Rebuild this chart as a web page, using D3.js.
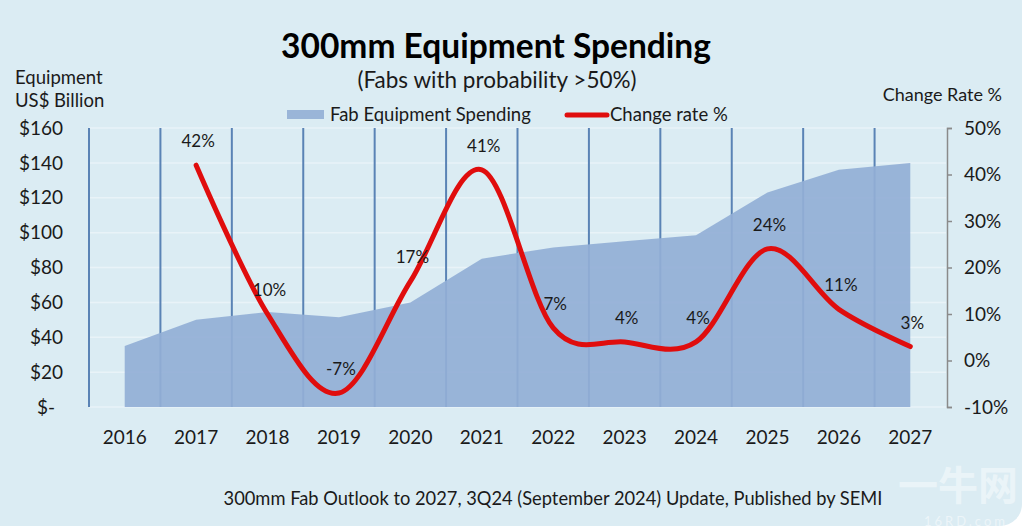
<!DOCTYPE html>
<html>
<head>
<meta charset="utf-8">
<script src="https://cdn.jsdelivr.net/npm/d3@7"></script>
<style>
  html, body { margin: 0; padding: 0; background: #fff; }
  body { width: 1028px; height: 531px; overflow: hidden; }
  text { font-family: "Lato", "Noto Sans", sans-serif; }
</style>
</head>
<body>
<div id="chart"></div>
<script>
const width = 1028;
const height = 531;

// data
const years = ["2016", "2017", "2018", "2019", "2020", "2021", "2022", "2023", "2024", "2025", "2026", "2027"];
const spending = [35, 50, 54.5, 51.5, 60, 85, 91.5, 95, 98.5, 123, 136, 140];
const rateYears = ["2017", "2018", "2019", "2020", "2021", "2022", "2023", "2024", "2025", "2026", "2027"];
const changeRate = [42, 10, -7, 17, 41, 7, 4, 4, 24, 11, 3];
const leftTicks = [0, 20, 40, 60, 80, 100, 120, 140, 160];
const rightTicks = [-10, 0, 10, 20, 30, 40, 50];

const plot = { left: 89, right: 946, top: 128, bottom: 407 };
const ink = "#1a1a1a";

const svg = d3
  .select("#chart")
  .append("svg")
  .attr("width", width)
  .attr("height", height)
  .attr("viewBox", `0 0 ${width} ${height}`);

// card background
svg.append("rect")
  .attr("x", -20).attr("y", -20)
  .attr("width", 1042).attr("height", 546)
  .attr("rx", 22)
  .attr("fill", "#dbecf3");

const x = d3.scaleBand().domain(years).range([plot.left, plot.right]).padding(0);
const cx = (d) => x(d) + x.bandwidth() / 2;
const y = d3.scaleLinear().domain([0, 160]).range([plot.bottom, plot.top]);
const y2 = d3.scaleLinear().domain([-10, 50]).range([plot.bottom, plot.top]);

// horizontal gridlines
svg.append("g")
  .selectAll("line")
  .data(leftTicks)
  .join("line")
  .attr("x1", plot.left).attr("x2", plot.right)
  .attr("y1", (d) => y(d)).attr("y2", (d) => y(d))
  .attr("stroke", "#e9f3f8")
  .attr("stroke-width", 1.5);

// vertical category lines
const bounds = years.map((d) => x(d));
svg.append("g")
  .selectAll("line")
  .data(bounds)
  .join("line")
  .attr("x1", (d) => d).attr("x2", (d) => d)
  .attr("y1", plot.top).attr("y2", plot.bottom)
  .attr("stroke", "#5a83b5")
  .attr("stroke-width", 2);

// spending area
const areaData = years.map((d, i) => ({ year: d, value: spending[i] }));
svg.append("path")
  .datum(areaData)
  .attr("fill", "#92afd6")
  .attr("fill-opacity", 0.92)
  .attr("d", d3.area().x((d) => cx(d.year)).y0(y(0)).y1((d) => y(d.value)));

// right axis
const rightAxis = svg.append("g")
  .attr("transform", `translate(${plot.right + 1},0)`)
  .call(d3.axisRight(y2).tickValues(rightTicks).tickSize(5).tickFormat((d) => d + "%"));
rightAxis.select(".domain").attr("stroke", "#8a8a8a").attr("stroke-width", 1.5);
rightAxis.selectAll(".tick line").attr("stroke", "#8a8a8a").attr("stroke-width", 1.5);
rightAxis.selectAll(".tick text")
  .attr("x", 17)
  .attr("text-anchor", "start")
  .style("font-size", "19px")
  .style("font-family", "Lato, sans-serif")
  .attr("fill", ink);

// left tick labels
svg.append("g")
  .selectAll("text")
  .data(leftTicks)
  .join("text")
  .attr("x", (d) => (d === 0 ? 55 : 63))
  .attr("y", (d) => y(d))
  .attr("dy", "0.35em")
  .attr("text-anchor", "end")
  .attr("fill", ink)
  .style("font-size", "19px")
  .text((d) => (d === 0 ? "$-" : "$" + d));

// year labels
svg.append("g")
  .selectAll("text")
  .data(years)
  .join("text")
  .attr("x", (d) => cx(d))
  .attr("y", 437)
  .attr("dy", "0.35em")
  .attr("text-anchor", "middle")
  .attr("fill", ink)
  .style("font-size", "19px")
  .text((d) => d);

// change rate line
const rateData = rateYears.map((d, i) => ({ year: d, value: changeRate[i] }));
svg.append("path")
  .datum(rateData)
  .attr("fill", "none")
  .attr("stroke", "#e00d0d")
  .attr("stroke-width", 5)
  .attr("stroke-linecap", "round")
  .attr("d", d3.line().x((d) => cx(d.year)).y((d) => y2(d.value)).curve(d3.curveCardinal.tension(0)));

// rate labels
svg.append("g")
  .selectAll("text")
  .data(rateData)
  .join("text")
  .attr("x", (d) => cx(d.year) + 2)
  .attr("y", (d) => y2(d.value) - 24)
  .attr("dy", "0.35em")
  .attr("text-anchor", "middle")
  .attr("fill", ink)
  .style("font-size", "17px")
  .text((d) => d.value + "%");

// titles
svg.append("text")
  .attr("x", 496).attr("y", 58)
  .attr("text-anchor", "middle")
  .attr("fill", "#000")
  .style("font-size", "33.5px")
  .style("font-weight", "bold")
  .text("300mm Equipment Spending");

svg.append("text")
  .attr("x", 497).attr("y", 80)
  .attr("dy", "0.35em")
  .attr("text-anchor", "middle")
  .attr("fill", ink)
  .style("font-size", "22.5px")
  .text("(Fabs with probability >50%)");

svg.append("text")
  .attr("x", 15).attr("y", 78)
  .attr("dy", "0.35em")
  .attr("fill", ink)
  .style("font-size", "18.5px")
  .text("Equipment");
svg.append("text")
  .attr("x", 15).attr("y", 101)
  .attr("dy", "0.35em")
  .attr("fill", ink)
  .style("font-size", "18.5px")
  .text("US$ Billion");

svg.append("text")
  .attr("x", 1002).attr("y", 95)
  .attr("dy", "0.35em")
  .attr("text-anchor", "end")
  .attr("fill", ink)
  .style("font-size", "18px")
  .text("Change Rate %");

// legend
svg.append("rect")
  .attr("x", 287).attr("y", 110)
  .attr("width", 37).attr("height", 9)
  .attr("fill", "#9ab5d8");
svg.append("text")
  .attr("x", 330).attr("y", 115)
  .attr("dy", "0.35em")
  .attr("fill", ink)
  .style("font-size", "18.5px")
  .text("Fab Equipment Spending");
svg.append("line")
  .attr("x1", 567).attr("x2", 607)
  .attr("y1", 115).attr("y2", 115)
  .attr("stroke", "#e00d0d")
  .attr("stroke-width", 5)
  .attr("stroke-linecap", "round");
svg.append("text")
  .attr("x", 610).attr("y", 115)
  .attr("dy", "0.35em")
  .attr("fill", ink)
  .style("font-size", "18.5px")
  .text("Change rate %");

// footer
svg.append("text")
  .attr("x", 553).attr("y", 499)
  .attr("dy", "0.35em")
  .attr("text-anchor", "middle")
  .attr("fill", ink)
  .style("font-size", "18.3px")
  .text("300mm Fab Outlook to 2027, 3Q24 (September 2024) Update, Published by SEMI");

// watermark
svg.append("text")
  .attr("x", 1018).attr("y", 500)
  .attr("text-anchor", "end")
  .attr("fill", "#ffffff")
  .attr("fill-opacity", 0.45)
  .style("font-family", "Noto Sans CJK SC")
  .style("font-size", "40px")
  .style("font-weight", "bold")
  .text("一牛网");
svg.append("text")
  .attr("x", 1008).attr("y", 526)
  .attr("text-anchor", "end")
  .attr("fill", "#ffffff")
  .attr("fill-opacity", 0.5)
  .style("font-size", "13px")
  .style("letter-spacing", "3px")
  .text("16RD.com");
</script>
</body>
</html>
